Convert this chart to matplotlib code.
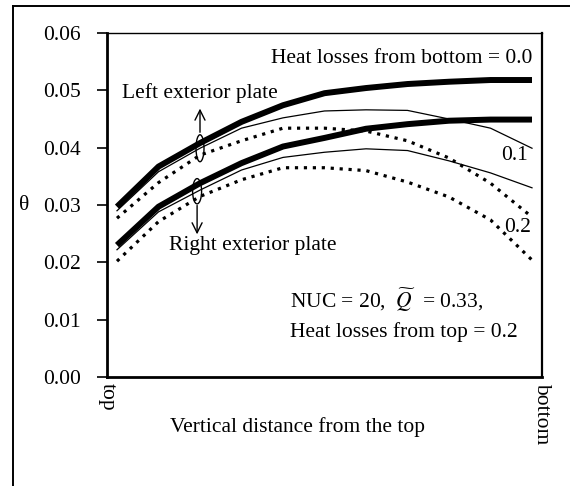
import numpy as np
import matplotlib
matplotlib.use("Agg")
import matplotlib.pyplot as plt
from matplotlib.patches import Ellipse
from matplotlib.lines import Line2D

plt.rcParams['font.family'] = ['Liberation Serif', 'DejaVu Serif']
plt.rcParams['mathtext.fontset'] = 'stix'

# posicao vertical (0 = top, 1 = bottom)
pos = np.linspace(0, 1, 11)

# placa exterior esquerda
left_00 = [0.0297, 0.0367, 0.0408, 0.0445, 0.0474, 0.0495, 0.0504, 0.0511, 0.0515, 0.0518, 0.0518]
left_01 = [0.0290, 0.0358, 0.0399, 0.0434, 0.0452, 0.0464, 0.0466, 0.0465, 0.0450, 0.0434, 0.0399]
left_02 = [0.0277, 0.0339, 0.0387, 0.0412, 0.0434, 0.0434, 0.0429, 0.0412, 0.0382, 0.0338, 0.0279]

# placa exterior direita
right_00 = [0.0230, 0.0297, 0.0338, 0.0373, 0.0402, 0.0417, 0.0433, 0.0441, 0.0447, 0.0449, 0.0449]
right_01 = [0.0222, 0.0288, 0.0326, 0.0361, 0.0383, 0.0392, 0.0398, 0.0395, 0.0377, 0.0356, 0.0330]
right_02 = [0.0202, 0.0271, 0.0315, 0.0344, 0.0365, 0.0365, 0.0360, 0.0340, 0.0314, 0.0274, 0.0204]

yticks = [0.00, 0.01, 0.02, 0.03, 0.04, 0.05, 0.06]

fig = plt.figure(figsize=(5.7, 4.86), dpi=100)
ax = fig.add_axes([107/570, 1 - 377/486, 435/570, 344/486])

fs = 15.5

# linhas grossas, finas e pontilhadas
for serie in (left_00, right_00):
    ax.plot(pos, serie, color='black', lw=4.3, solid_capstyle='butt')
for serie in (left_01, right_01):
    ax.plot(pos, serie, color='black', lw=0.9)
for serie in (left_02, right_02):
    ax.plot(pos, serie, color='black', lw=2.3, linestyle=(0, (1, 1.8)),
            dash_capstyle='butt')

ax.set_xlim(-10/415, 1 + 10/415)
ax.set_ylim(0, 0.06)
ax.set_yticks(yticks)
ax.set_yticklabels([f"{v:.2f}" for v in yticks], fontsize=fs)
ax.tick_params(axis='y', direction='out', length=7, width=1.2, pad=12)
ax.set_xticks([-10/415, 1 + 10/415])
ax.set_xticklabels(['top', 'bottom'], rotation=-90, fontsize=fs, va='top')
ax.tick_params(axis='x', length=0, pad=4)

for s in ['left', 'bottom']:
    ax.spines[s].set_linewidth(2)
ax.spines['right'].set_linewidth(1.6)
ax.spines['top'].set_linewidth(1.0)

ax.set_xlabel('Vertical distance from the top', fontsize=fs, va='center')
ax.xaxis.set_label_coords(0.439, -0.145)
fig.text(24/570, 1 - 206/486, 'θ', fontsize=fs, ha='center', va='center')

# anotacoes
ax.text(1.0, 0.0556, 'Heat losses from bottom = 0.0', fontsize=fs, ha='right', va='center')
ax.text(0.2, 0.0495, 'Left exterior plate', fontsize=fs, ha='center', va='center')
ax.text(0.328, 0.0230, 'Right exterior plate', fontsize=fs, ha='center', va='center')
ax.text(0.957, 0.0387, '0.1', fontsize=fs, ha='center', va='center')
ax.text(0.966, 0.0260, '0.2', fontsize=fs, ha='center', va='center')
ax.text(0.417, 0.0134, r'NUC = 20,  $\widetilde{Q}$  = 0.33,', fontsize=fs, ha='left', va='center')
ax.text(0.417, 0.0078, 'Heat losses from top = 0.2', fontsize=fs, ha='left', va='center')

ax.add_patch(Ellipse((0.2, 0.0399), 0.0193, 0.0047, fill=False, lw=1.0, color='black'))
ax.add_patch(Ellipse((0.193, 0.0324), 0.0217, 0.0044, fill=False, lw=1.0, color='black'))
ax.annotate('', xy=(0.2, 0.0473), xytext=(0.2, 0.0422),
            arrowprops=dict(arrowstyle='->', lw=1.0, color='black', mutation_scale=18))
ax.annotate('', xy=(0.193, 0.0244), xytext=(0.193, 0.0304),
            arrowprops=dict(arrowstyle='->', lw=1.0, color='black', mutation_scale=18))

# moldura externa
fig.add_artist(Line2D([12.5/570, 12.5/570], [0, 1 - 6/486], color='black', lw=1.4))
fig.add_artist(Line2D([12.5/570, 1], [1 - 6/486, 1 - 6/486], color='black', lw=1.4))

fig.savefig('out.png', dpi=100)
